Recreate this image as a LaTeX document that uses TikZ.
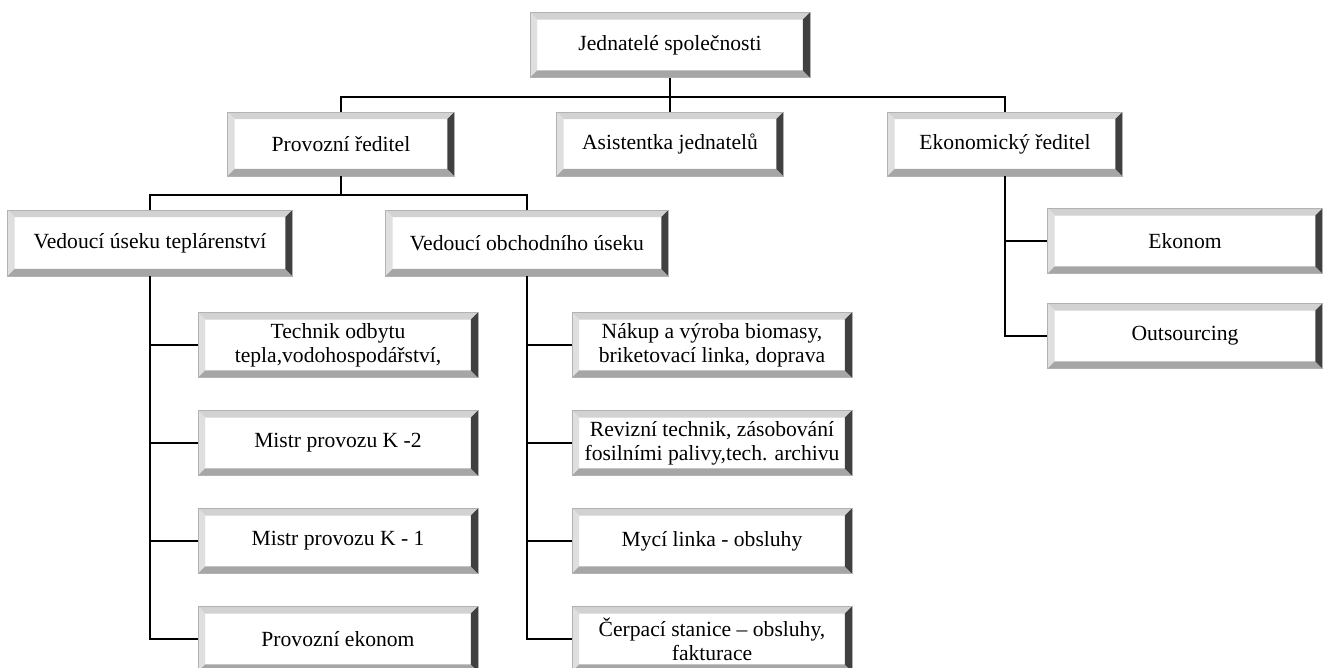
\documentclass[tikz,border=0pt]{standalone}
\usepackage{fontspec}
\setmainfont{Liberation Serif}
\usepackage{tikz}
\usetikzlibrary{calc}

\begin{document}
\begin{tikzpicture}[x=0.02cm, y=-0.02cm]%%organigram

                \tikzstyle{role} = [draw=gray!60, fill=white, inner sep=0pt, align=center,
                        minimum width=5.6cm, minimum height=1.3cm,
                        font=\fontsize{12.3}{13.8}\selectfont,
                        path picture={
                                \coordinate (nw) at (path picture bounding box.north west);
                                \coordinate (ne) at (path picture bounding box.north east);
                                \coordinate (sw) at (path picture bounding box.south west);
                                \coordinate (se) at (path picture bounding box.south east);
                                \fill[gray!35] (nw) -- (ne) -- ([shift={(-4pt,-4pt)}]ne) -- ([shift={(4pt,-4pt)}]nw) -- cycle;
                                \fill[gray!25] (nw) -- (sw) -- ([shift={(4pt,4pt)}]sw) -- ([shift={(4pt,-4pt)}]nw) -- cycle;
                                \fill[gray!70] (sw) -- (se) -- ([shift={(-4pt,4pt)}]se) -- ([shift={(4pt,4pt)}]sw) -- cycle;
                                \fill[black!75] (ne) -- (se) -- ([shift={(-4pt,4pt)}]se) -- ([shift={(-4pt,-4pt)}]ne) -- cycle;
                        }]
                \tikzstyle{link} = [line width=1pt]
                \useasboundingbox (0,0) rectangle (1330,668);

                \node [role](jed) at (670,45) {Jednatelé společnosti};
                \node [role, minimum width=4.54cm, minimum height=1.28cm](prov) at (341,144) {Provozní ředitel};
                \node [role, minimum width=4.54cm, minimum height=1.28cm](asi) at (670,144) {Asistentka jednatelů};
                \node [role, minimum width=4.7cm, minimum height=1.28cm](eko) at (1005,144) {Ekonomický ředitel};

                \node [role, minimum width=5.7cm, minimum height=1.32cm](ved1) at (150,243) {Vedoucí úseku teplárenství};
                \node [role, minimum width=5.66cm, minimum height=1.32cm](ved2) at (527,243) {Vedoucí obchodního úseku};

                \node [role, minimum width=5.5cm](ekon) at (1185,241) {Ekonom};
                \node [role, minimum width=5.5cm](outs) at (1185,336) {Outsourcing};

                \node [role](tech) at (338,345) {Technik odbytu\\tepla,vodohospodářství,};
                \node [role](k2) at (338,443) {Mistr provozu K -2};
                \node [role](k1) at (338,541) {Mistr provozu K - 1};
                \node [role](pek) at (338,639) {Provozní ekonom};

                \node [role](nak) at (712,345) {Nákup a výroba biomasy,\\briketovací linka, doprava};
                \node [role](rev) at (712,443) {Revizní technik, zásobování\\fosilními palivy,tech. archivu};
                \node [role](myc) at (712,541) {Mycí linka - obsluhy};
                \node [role](cer) at (712,639) {Čerpací stanice – obsluhy,\\fakturace};

                \coordinate (bus) at (670,97);
                \coordinate (bus2) at (341,195);

                \draw [link] (jed) -- (asi);
                \draw [link] (prov) |- (bus) -| (eko);
                \draw [link] (prov) -- (bus2);
                \draw [link] (ved1) |- (bus2) -| (ved2);
                \foreach \n in {tech,k2,k1,pek}
                        \draw [link] (ved1) |- (\n);
                \foreach \n in {nak,rev,myc,cer}
                        \draw [link] (ved2) |- (\n);
                \draw [link] (eko) |- (ekon);
                \draw [link] (eko) |- (outs);
\end{tikzpicture}
\end{document}
